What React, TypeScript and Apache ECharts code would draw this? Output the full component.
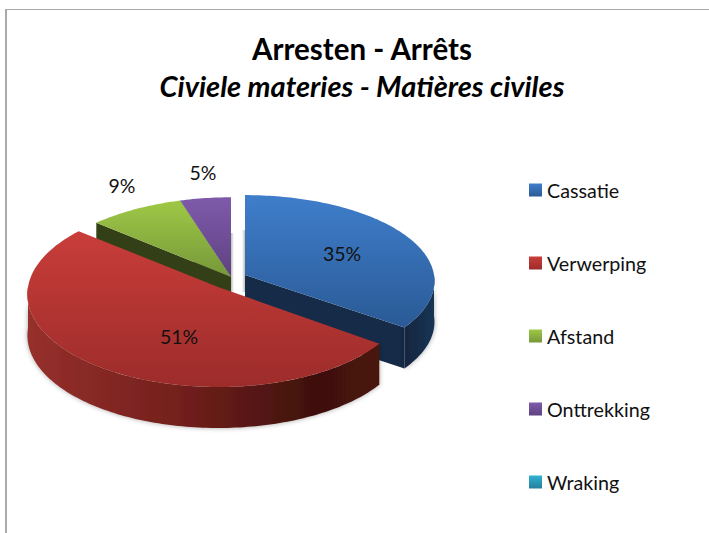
import React, { useEffect, useRef } from "react";
import * as echarts from "echarts";

const categories = ["Cassatie", "Verwerping", "Afstand", "Onttrekking", "Wraking"];
const values = [35, 51, 9, 5, 0];
const titleText = "Arresten - Arrêts";
const subtitleText = "Civiele materies - Matières civiles";

const FONT = "Lato, Carlito, Calibri, sans-serif";
const DEPTH = 41;

// Projection and styling of each slice (apex, radii, perspective), index-aligned with categories
const geometry = [
  { cx: 245, cy: 275, a: 189, b: 85.5, p: 0.07, z: 3, top: ["#3f7ecb", "#2a5a96"], rim: ["#1a3454", "#12263f"], cut: "#152b48", lx: 342, ly: 253 },
  { cx: 218, cy: 287, a: 190, b: 92, p: 0.08, z: 4, top: ["#c93d3a", "#9c2c2a"], rim: ["#96302c", "#3f100d"], cut: "#4a1410", lx: 179, ly: 336 },
  { cx: 231, cy: 277, a: 199, b: 97, p: 0.217, z: 2, top: ["#9fc846", "#76983a"], rim: ["#333f16", "#333f16"], cut: "#333f16", lx: 122, ly: 185 },
  { cx: 231, cy: 277, a: 199, b: 97, p: 0.217, z: 1, top: ["#7f5aab", "#5e4280"], rim: ["#3a2850", "#3a2850"], cut: "#3a2850", lx: 203, ly: 172 },
  { cx: 231, cy: 277, a: 199, b: 97, p: 0.217, z: 1, top: ["#30b2d2", "#24809b"], rim: ["#1a5a6d", "#1a5a6d"], cut: "#1a5a6d", lx: 0, ly: 0 },
];

const vGrad = (c: string[]) => ({
  type: "linear", x: 0, y: 0, x2: 0, y2: 1,
  colorStops: [{ offset: 0, color: c[0] }, { offset: 1, color: c[1] }],
});

const total = values.reduce((s, v) => s + v, 0);

function makeRender(i: number) {
  const g = geometry[i];
  const start = (values.slice(0, i).reduce((s, v) => s + v, 0) / total) * Math.PI * 2;
  const end = start + (values[i] / total) * Math.PI * 2;
  const proj = (t: number, drop = 0): number[] => {
    const X = Math.sin(t);
    const Y = -Math.cos(t);
    const f = 1 / (1 - g.p * Y);
    return [g.cx + g.a * X * f, g.cy + g.b * Y * f + drop];
  };
  const arc = (a: number, b: number, drop = 0) => {
    const pts: number[][] = [];
    const n = Math.max(2, Math.ceil(Math.abs(b - a) / 0.02));
    for (let k = 0; k <= n; k++) pts.push(proj(a + ((b - a) * k) / n, drop));
    return pts;
  };
  return () => {
    if (values[i] === 0) return { type: "group", children: [] };
    const children: any[] = [];
    const apex = [g.cx, g.cy];
    const apexLow = [g.cx, g.cy + DEPTH];
    if (Math.sin(start) < -0.001) {
      const e = proj(start);
      const el = proj(start, DEPTH);
      children.push({ type: "polygon", shape: { points: [apex, e, el, apexLow] }, style: { fill: g.cut } });
    }
    if (Math.sin(end) > 0.001) {
      const e = proj(end);
      const el = proj(end, DEPTH);
      children.push({ type: "polygon", shape: { points: [apex, e, el, apexLow] }, style: { fill: g.cut } });
    }
    const ra = Math.max(start, Math.PI / 2);
    const rb = Math.min(end, (Math.PI * 3) / 2);
    if (rb > ra) {
      const pts = [...arc(ra, rb), ...arc(rb, ra, DEPTH)];
      children.push({
        type: "polygon",
        shape: { points: pts },
        style: {
          fill: {
            type: "linear", x: 0, y: 0, x2: 1, y2: 0,
            colorStops: i === 1
              ? [
                  { offset: 0, color: g.rim[0] },
                  { offset: 0.45, color: "#711f1b" },
                  { offset: 0.82, color: g.rim[1] },
                  { offset: 1, color: "#4a1410" },
                ]
              : [{ offset: 0, color: g.rim[1] }, { offset: 1, color: g.rim[0] }],
          },
          shadowBlur: 5,
          shadowColor: "rgba(0,0,0,0.35)",
        },
      });
    }
    children.push({
      type: "polygon",
      shape: { points: [apex, ...arc(start, end)] },
      style: { fill: vGrad(g.top) },
    });
    children.push({
      type: "text",
      style: {
        text: values[i] + "%", x: g.lx, y: g.ly, align: "center", verticalAlign: "middle",
        font: `19.5px ${FONT}`, fill: "#111111",
      },
      z2: 10,
    });
    return { type: "group", children };
  };
}

const stripGrad = (from: string) => ({
  type: "linear", x: 0, y: 0, x2: 1, y2: 0,
  colorStops: [{ offset: 0, color: from }, { offset: 1, color: "#ffffff" }],
});

export default function App() {
  const ref = useRef<HTMLDivElement>(null);
  useEffect(() => {
    document.body.style.margin = "0";
    const chart = echarts.init(ref.current!, undefined, { renderer: "svg" });
    chart.setOption({
      animation: false,
      backgroundColor: "#ffffff",
      title: {
        text: titleText,
        subtext: subtitleText,
        left: 357,
        top: 28,
        textAlign: "center",
        itemGap: 8,
        textStyle: { fontFamily: FONT, fontSize: 29.5, fontWeight: "bold", color: "#000000" },
        subtextStyle: { fontFamily: FONT, fontSize: 29, fontWeight: "bold", fontStyle: "italic", color: "#000000" },
      },
      legend: {
        orient: "vertical",
        left: 524,
        top: 174,
        icon: "rect",
        itemWidth: 13,
        itemHeight: 13,
        itemGap: 51,
        data: categories,
        selectedMode: false,
        textStyle: { fontFamily: FONT, fontSize: 19.7, color: "#111111", lineHeight: 22 },
      },
      graphic: [
        { type: "line", shape: { x1: 6, y1: 9.5, x2: 709, y2: 9.5 }, style: { stroke: "#aaaaaa", lineWidth: 1.2 }, silent: true },
        { type: "line", shape: { x1: 6, y1: 9, x2: 6, y2: 533 }, style: { stroke: "#aaaaaa", lineWidth: 2 }, silent: true },
        { type: "rect", shape: { x: 231, y: 233, width: 3, height: 60 }, style: { fill: stripGrad("#bdbdbd") }, silent: true },
        { type: "rect", shape: { x: 242, y: 230, width: 3, height: 62 }, style: { fill: { ...stripGrad("#bdbdbd"), x: 1, x2: 0 } }, silent: true },
      ],
      series: categories.map((name, i) => ({
        type: "custom",
        name,
        coordinateSystem: "none",
        silent: true,
        z: geometry[i].z + 2,
        itemStyle: { color: vGrad(geometry[i].top) },
        data: [[values[i]]],
        renderItem: makeRender(i),
      })),
    });
    return () => chart.dispose();
  }, []);
  return <div ref={ref} style={{ position: "fixed", left: 0, top: 0, width: 709, height: 533 }} />;
}
